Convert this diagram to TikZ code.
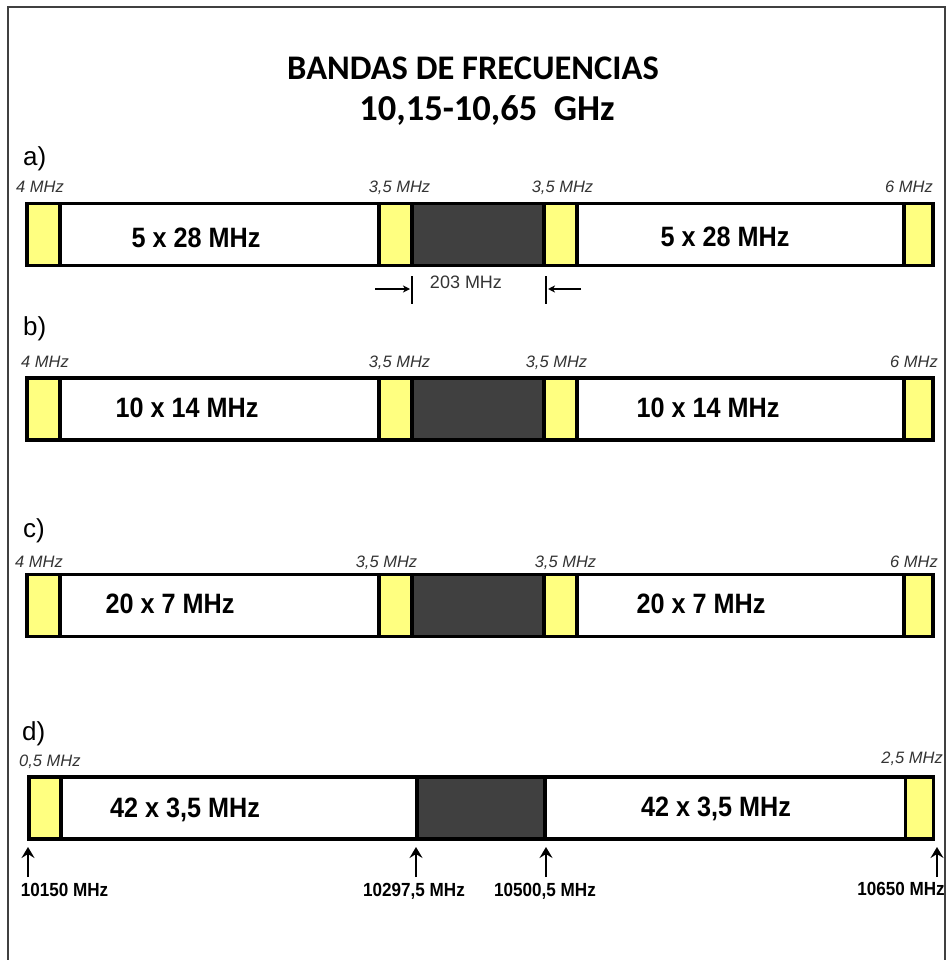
\documentclass[tikz,border=0pt]{standalone}
\usepackage{fontspec}
\setmainfont{Liberation Sans}
\newfontfamily\titlefont{Carlito}
\newfontfamily\narrowfont{Liberation Sans}[FakeStretch=0.9]
\usetikzlibrary{arrows.meta}
\definecolor{bandyellow}{HTML}{FFFF80}
\definecolor{bandgray}{HTML}{404040}
\definecolor{labelgray}{HTML}{333333}
\definecolor{framegray}{HTML}{404040}
\tikzset{
 seg/.style={draw=black, line width=3.5pt, inner sep=0pt, outer sep=0pt, minimum height=62pt},
 ylw/.style={seg, fill=bandyellow},
 wht/.style={seg, fill=white},
 drk/.style={seg, fill=bandgray},
 big/.style={font=\narrowfont\bfseries\fontsize{28}{30}\selectfont, inner sep=0pt, anchor=base},
 small/.style={font=\itshape\fontsize{16.5}{18}\selectfont, text=labelgray, inner sep=0pt},
 part/.style={font=\fontsize{26}{28}\selectfont, inner sep=0pt, anchor=base west},
 freq/.style={font=\narrowfont\bfseries\fontsize{19}{21}\selectfont, inner sep=0pt, anchor=base},
 ttl/.style={font=\titlefont\bfseries\fontsize{34.5}{36}\selectfont, inner sep=0pt, anchor=base},
 uparr/.style={-{Stealth[length=11pt,width=13pt,inset=4pt]}, line width=2.2pt},
 sidearr/.style={-{Stealth[length=7pt,width=7pt,inset=2pt]}, line width=1.3pt},
 tick/.style={line width=1.3pt},
}
\begin{document}
\begin{tikzpicture}[x=1pt,y=-1pt]
\useasboundingbox (0,0) rectangle (949,960);
% frame
\draw[framegray, line width=2pt] (8,960) -- (8,7) -- (945,7) -- (945,960);
% title
\node[ttl] (t1) at (473,80) {BANDAS DE FRECUENCIAS};
\node[ttl, font=\titlefont\bfseries\fontsize{36.5}{38}\selectfont] (t2) at (487,121) {10,15-10,65\ \ GHz};

% ---------- a)
\node[part] (la) at (23,166) {a)};
\node[wht, minimum width=319pt] (aW1) at (219.5,234.5) {};
\node[wht, minimum width=327pt] (aW2) at (740.5,234.5) {};
\node[drk, minimum width=132pt] (aD) at (478,234.5) {};
\node[ylw, minimum width=33pt] (aY1) at (43.5,234.5) {};
\node[ylw, minimum width=33pt] (aY2) at (395.5,234.5) {};
\node[ylw, minimum width=33pt] (aY3) at (560.5,234.5) {};
\node[ylw, minimum width=29pt] (aY4) at (918.5,234.5) {};
\node[big] (aT1) at (196,247) {5 x 28 MHz};
\node[big] (aT2) at (725,246) {5 x 28 MHz};
\node[small, anchor=base west] (aS1) at (16,193) {4 MHz};
\node[small, anchor=base] (aS2) at (399.5,193) {3,5 MHz};
\node[small, anchor=base] (aS3) at (562.5,193) {3,5 MHz};
\node[small, anchor=base east] (aS4) at (933,193) {6 MHz};
% 203 MHz
\coordinate (k1t) at (412,276); \coordinate (k1b) at (412,304);
\coordinate (k2t) at (546,276); \coordinate (k2b) at (546,304);
\draw[tick] (k1t) -- (k1b);
\draw[tick] (k2t) -- (k2b);
\coordinate (ar1) at (375,289); \coordinate (ar1e) at (410,289);
\coordinate (ar2) at (581,289); \coordinate (ar2e) at (548,289);
\draw[sidearr] (ar1) -- (ar1e);
\draw[sidearr] (ar2) -- (ar2e);
\node[font=\fontsize{18}{20}\selectfont, text=labelgray, inner sep=0pt, anchor=base] (w203) at (466,288) {203 MHz};

% ---------- b)
\node[part] (lb) at (23,335) {b)};
\node[wht, minimum width=319pt] (bW1) at (219.5,409) {};
\node[wht, minimum width=327pt] (bW2) at (740.5,409) {};
\node[drk, minimum width=132pt] (bD) at (478,409) {};
\node[ylw, minimum width=33pt] (bY1) at (43.5,409) {};
\node[ylw, minimum width=33pt] (bY2) at (395.5,409) {};
\node[ylw, minimum width=33pt] (bY3) at (560.5,409) {};
\node[ylw, minimum width=29pt] (bY4) at (918.5,409) {};
\node[big] (bT1) at (187,417) {10 x 14 MHz};
\node[big] (bT2) at (708,417) {10 x 14 MHz};
\node[small, anchor=base west] (bS1) at (21,367) {4 MHz};
\node[small, anchor=base] (bS2) at (399.5,367) {3,5 MHz};
\node[small, anchor=base] (bS3) at (556.5,367) {3,5 MHz};
\node[small, anchor=base east] (bS4) at (938,367) {6 MHz};

% ---------- c)
\node[part] (lc) at (23,537) {c)};
\node[wht, minimum width=319pt] (cW1) at (219.5,605.5) {};
\node[wht, minimum width=327pt] (cW2) at (740.5,605.5) {};
\node[drk, minimum width=132pt] (cD) at (478,605.5) {};
\node[ylw, minimum width=33pt] (cY1) at (43.5,605.5) {};
\node[ylw, minimum width=33pt] (cY2) at (395.5,605.5) {};
\node[ylw, minimum width=33pt] (cY3) at (560.5,605.5) {};
\node[ylw, minimum width=29pt] (cY4) at (918.5,605.5) {};
\node[big] (cT1) at (170,613) {20 x 7 MHz};
\node[big] (cT2) at (701,613) {20 x 7 MHz};
\node[small, anchor=base west] (cS1) at (15,567) {4 MHz};
\node[small, anchor=base] (cS2) at (386.5,567) {3,5 MHz};
\node[small, anchor=base] (cS3) at (565.5,567) {3,5 MHz};
\node[small, anchor=base east] (cS4) at (938,567) {6 MHz};

% ---------- d)
\node[part] (ld) at (22,740) {d)};
\node[wht, minimum width=356pt] (dW1) at (239,808) {};
\node[wht, minimum width=360.5pt] (dW2) at (725.25,808) {};
\node[drk, minimum width=128pt] (dD) at (481,808) {};
\node[ylw, minimum width=32pt] (dY1) at (45,808) {};
\node[ylw, minimum width=28pt] (dY4) at (919.5,808) {};
\node[big] (dT1) at (185,817) {42 x 3,5 MHz};
\node[big] (dT2) at (716,816) {42 x 3,5 MHz};
\node[small, anchor=base west] (dS1) at (19,766) {0,5 MHz};
\node[small, anchor=base east] (dS4) at (943,763) {2,5 MHz};
% frequency arrows
\coordinate (p1) at (28,877);
\coordinate (p2) at (416,877);
\coordinate (p3) at (546,877);
\coordinate (p4) at (937,877);
\draw[uparr, shorten >=8pt] (p1) -- (p1 |- dY1.south);
\draw[uparr, shorten >=8pt] (p2) -- (p2 |- dD.south);
\draw[uparr, shorten >=8pt] (p3) -- (p3 |- dD.south);
\draw[uparr, shorten >=8pt] (p4) -- (p4 |- dY4.south);
\node[freq] (f1) at (64.5,896) {10150 MHz};
\node[freq] (f2) at (414,896) {10297,5 MHz};
\node[freq] (f3) at (545,896) {10500,5 MHz};
\node[freq] (f4) at (901,895) {10650 MHz};
\end{tikzpicture}
\end{document}
